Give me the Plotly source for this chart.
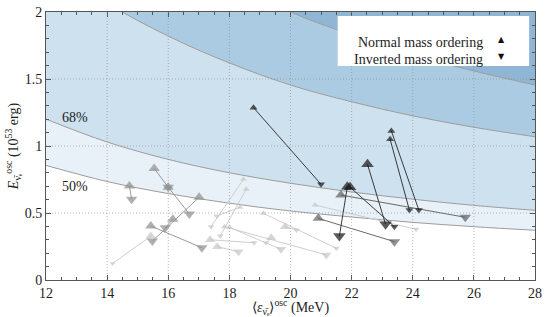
import plotly.graph_objects as go

# ---------------- data ----------------
# contour curves (E in 1e53 erg) sampled at these energies
eps_grid = [12, 14, 16, 18, 20, 22, 24, 26, 28]
curve_50 = [0.855, 0.735, 0.645, 0.573, 0.515, 0.470, 0.430, 0.398, 0.371]
curve_68 = [1.200, 1.030, 0.900, 0.800, 0.722, 0.657, 0.603, 0.557, 0.520]
curve_c3 = [2.42, 2.07, 1.82, 1.62, 1.455, 1.33, 1.225, 1.14, 1.069]
curve_c4 = [3.35, 2.87, 2.51, 2.23, 2.00, 1.83, 1.68, 1.56, 1.455]
top_edge = [3.5] * 9

# light-grey models
lt_no_x = [18.46, 18.55, 18.35, 19.11, 19.82, 19.37, 20.80, 15.43, 17.84, 18.00, 17.37, 17.60]
lt_no_y = [0.751, 0.677, 0.543, 0.498, 0.398, 0.316, 0.560, 0.328, 0.398, 0.393, 0.300, 0.249]
lt_io_x = [17.40, 17.70, 17.59, 21.50, 20.20, 19.20, 24.11, 14.18, 21.17, 19.69, 18.81, 18.30]
lt_io_y = [0.398, 0.328, 0.478, 0.237, 0.373, 0.278, 0.378, 0.124, 0.187, 0.229, 0.278, 0.211]
lt_no_s = [6, 6, 6, 6, 9, 9, 6, 9, 6, 6, 9, 9]
lt_io_s = [6, 6, 6, 6, 6, 6, 6, 5, 9, 9, 6, 9]

# grey models
gr_no_x = [15.54, 16.00, 14.73, 17.01, 16.15, 15.43]
gr_no_y = [0.833, 0.692, 0.701, 0.617, 0.453, 0.403]
gr_io_x = [16.00, 16.69, 14.80, 15.48, 15.90, 17.10]
gr_io_y = [0.692, 0.493, 0.602, 0.291, 0.390, 0.241]

# dark-grey models
dk_no_x = [21.65, 20.91]
dk_no_y = [0.634, 0.460]
dk_io_x = [25.72, 23.40]
dk_io_y = [0.468, 0.286]

# black models
bk_no_x = [18.79, 23.30, 23.26, 22.52, 21.86, 21.95]
bk_no_y = [1.286, 1.112, 1.050, 0.863, 0.696, 0.692]
bk_io_x = [21.00, 24.20, 23.89, 23.11, 21.60, 23.40]
bk_io_y = [0.714, 0.522, 0.522, 0.416, 0.328, 0.398]
bk_no_s = [7, 7, 7, 11, 11, 11]
bk_io_s = [7, 7, 7, 11, 11, 7]

x_ticks = [12, 14, 16, 18, 20, 22, 24, 26, 28]
y_ticks = [0, 0.5, 1, 1.5, 2]
y_tick_text = ["0", "0.5", "1", "1.5", "2"]

# ---------------- figure ----------------
FONT = "Liberation Serif, Times New Roman, serif"
TXT = "#1e1e1e"
fig = go.Figure()

band_colors = ["#e9f1f8", "#cde1ee", "#abcbe3", "#90b6d6"]
curves = [curve_50, curve_68, curve_c3, curve_c4, top_edge]
for i, c in enumerate(curves):
    fig.add_trace(go.Scatter(
        x=eps_grid, y=c, mode="lines",
        line=dict(color="#9c9c9c" if i < 4 else "rgba(0,0,0,0)", width=1, shape="spline"),
        fill="tonexty" if i > 0 else None,
        fillcolor=band_colors[i - 1] if i > 0 else None,
        hoverinfo="skip", showlegend=False))

groups = [
    (lt_no_x, lt_no_y, lt_io_x, lt_io_y, lt_no_s, lt_io_s, "#c6c6c6", "#cfcfcf"),
    (gr_no_x, gr_no_y, gr_io_x, gr_io_y, [10] * 6, [10] * 6, "#8e8e8e", "#9a9a9a"),
    (dk_no_x, dk_no_y, dk_io_x, dk_io_y, [10] * 2, [10] * 2, "#606060", "#6a6a6a"),
    (bk_no_x, bk_no_y, bk_io_x, bk_io_y, bk_no_s, bk_io_s, "#141414", "#3a3a3a"),
]
for nx, ny, ix, iy, ns, is_, mc, lc in groups:
    for a, b, c, d in zip(nx, ny, ix, iy):
        fig.add_trace(go.Scatter(x=[a, c], y=[b, d], mode="lines",
                                 line=dict(color=lc, width=1),
                                 hoverinfo="skip", showlegend=False))
    fig.add_trace(go.Scatter(x=nx, y=ny, mode="markers",
                             marker=dict(symbol="triangle-up", size=ns, color=mc, line=dict(width=0)),
                             showlegend=False))
    fig.add_trace(go.Scatter(x=ix, y=iy, mode="markers",
                             marker=dict(symbol="triangle-down", size=is_, color=mc, line=dict(width=0)),
                             showlegend=False))

shapes = []
grid_style = dict(color="rgba(140,140,140,0.6)", width=1, dash="1px,2px")
for xv in x_ticks[1:-1]:
    shapes.append(dict(type="line", xref="x", yref="paper", x0=xv, x1=xv, y0=0, y1=1,
                       line=grid_style, layer="above"))
for yv in y_ticks[1:-1]:
    shapes.append(dict(type="line", xref="paper", yref="y", x0=0, x1=1, y0=yv, y1=yv,
                       line=grid_style, layer="above"))
# legend box
shapes.append(dict(type="rect", xref="paper", yref="paper", x0=0.5965, x1=0.988, y0=0.7985, y1=0.985,
                   fillcolor="white", line=dict(width=0), layer="above"))

annotations = [
    dict(x=12.95, y=1.209, xref="x", yref="y", text="68%", showarrow=False,
         font=dict(family=FONT, size=14, color=TXT)),
    dict(x=12.95, y=0.696, xref="x", yref="y", text="50%", showarrow=False,
         font=dict(family=FONT, size=14, color=TXT)),
    dict(x=0.898, y=0.9216, xref="paper", yref="paper", xanchor="right", text="Normal mass ordering",
         showarrow=False, font=dict(family=FONT, size=14, color=TXT)),
    dict(x=0.898, y=0.858, xref="paper", yref="paper", xanchor="right", text="Inverted mass ordering",
         showarrow=False, font=dict(family=FONT, size=14, color=TXT)),
    dict(x=0.942, y=0.9216, xref="paper", yref="paper", text="▲", showarrow=False,
         font=dict(family="DejaVu Sans", size=8, color="#111")),
    dict(x=0.942, y=0.858, xref="paper", yref="paper", text="▼", showarrow=False,
         font=dict(family="DejaVu Sans", size=8, color="#111")),
]

axis_common = dict(showgrid=False, zeroline=False, showline=True, linecolor="#555", linewidth=1,
                   mirror="allticks", ticks="inside", ticklen=5, tickcolor="#555", automargin=False,
                   tickfont=dict(family=FONT, size=14, color=TXT))

fig.update_layout(
    width=555, height=317,
    margin=dict(l=46, r=20, t=12, b=37),
    plot_bgcolor="white", paper_bgcolor="white",
    shapes=shapes, annotations=annotations,
    xaxis=dict(range=[12, 28], tickvals=x_ticks,
               minor=dict(dtick=0.5, ticks="inside", ticklen=3, tickcolor="#555", showgrid=False),
               title=dict(text="⟨<i>ε</i><sub>ν̄ₑ</sub>⟩<sup>osc</sup> (MeV)", standoff=0,
                          font=dict(family=FONT, size=14, color=TXT)),
               **axis_common),
    yaxis=dict(range=[0, 2], tickvals=y_ticks, ticktext=y_tick_text,
               minor=dict(dtick=0.1, ticks="inside", ticklen=3, tickcolor="#555", showgrid=False),
               title=dict(text="<i>E</i><sub>ν̄ₑ</sub><sup>osc</sup> (10<sup>53</sup> erg)", standoff=2,
                          font=dict(family=FONT, size=14, color=TXT)),
               **axis_common),
)

fig.write_html("out.html", config={"displayModeBar": False},
               post_script="document.body.style.margin='0px';")
